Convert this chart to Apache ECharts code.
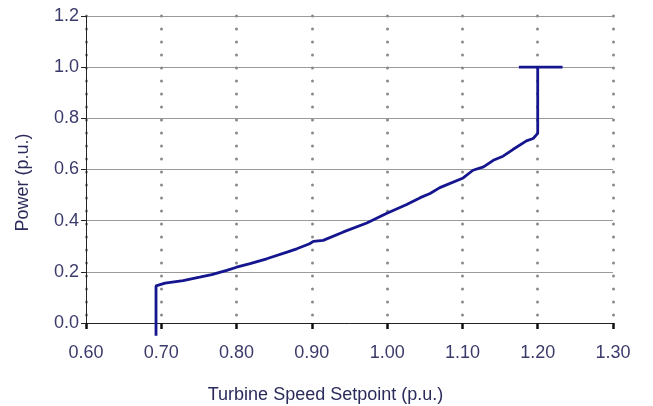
<!DOCTYPE html>
<html>
<head>
<meta charset="utf-8">
<script src="https://cdn.jsdelivr.net/npm/echarts@6/dist/echarts.min.js"></script>
<style>
html,body{margin:0;padding:0;background:#fff;}
#c{width:653px;height:406px;}
</style>
</head>
<body>
<div id="c"></div>
<script>
// Data
const speed = [0.693, 0.693, 0.705, 0.729, 0.751, 0.767, 0.787, 0.800, 0.818, 0.840, 0.867, 0.880, 0.897, 0.902, 0.915, 0.942, 0.973, 0.999, 1.026, 1.044, 1.057, 1.070, 1.101, 1.114, 1.128, 1.141, 1.154, 1.167, 1.185, 1.194, 1.200, 1.200];
const power = [-0.05, 0.145, 0.156, 0.166, 0.179, 0.189, 0.206, 0.218, 0.232, 0.251, 0.277, 0.290, 0.310, 0.319, 0.323, 0.356, 0.391, 0.428, 0.463, 0.490, 0.506, 0.529, 0.567, 0.597, 0.610, 0.636, 0.652, 0.678, 0.712, 0.721, 0.741, 1.0];
const capSpeed = [1.175, 1.233];
const capPower = [1.0, 1.0];
const xTicks = [0.60, 0.70, 0.80, 0.90, 1.00, 1.10, 1.20, 1.30];
const yTicks = [0.0, 0.2, 0.4, 0.6, 0.8, 1.0, 1.2];
const xTitle = 'Turbine Speed Setpoint (p.u.)';
const yTitle = 'Power (p.u.)';

const chart = echarts.init(document.getElementById('c'), null, {renderer: 'canvas'});
const font = 'Liberation Sans, Arial, sans-serif';
const lineColor = '#15158f';
const option = {
  backgroundColor: '#ffffff',
  animation: false,
  grid: {left: 86, right: 40, top: 16, bottom: 83, outerBoundsMode: 'none', containLabel: false},
  xAxis: {
    type: 'value',
    min: xTicks[0], max: xTicks[xTicks.length - 1], interval: 0.1,
    name: xTitle,
    nameLocation: 'middle',
    nameGap: 63,
    nameTextStyle: {color: '#2b2b5b', fontSize: 18, fontFamily: font, padding: [0, 48, 0, 0]},
    axisLine: {show: true, lineStyle: {color: '#222', width: 1}},
    axisTick: {show: true, inside: false, length: 6, lineStyle: {color: '#111', width: 2.5}},
    axisLabel: {margin: 21, fontSize: 18, fontFamily: font, color: '#3b3b6b', formatter: v => v.toFixed(2)},
    splitLine: {show: true, lineStyle: {color: '#8a8a8a', width: 3, type: [0.1, 12.9], cap: 'round'}}
  },
  yAxis: {
    type: 'value',
    min: yTicks[0], max: yTicks[yTicks.length - 1], interval: 0.2,
    name: yTitle,
    nameLocation: 'middle',
    nameGap: 54,
    nameTextStyle: {color: '#2b2b5b', fontSize: 18, fontFamily: font, padding: [0, 26, 0, 0]},
    axisLine: {show: true, lineStyle: {color: '#222', width: 1}},
    axisTick: {show: true, inside: false, length: 5, lineStyle: {color: '#222', width: 1}},
    axisLabel: {margin: 7, fontSize: 18, fontFamily: font, color: '#3b3b6b', formatter: v => v.toFixed(1)},
    splitLine: {show: true, lineStyle: {color: '#9a9a9a', width: 1.2, type: 'solid'}}
  },
  series: [
    {
      type: 'line',
      data: speed.map((s, i) => [s, power[i]]),
      showSymbol: false,
      clip: false,
      lineStyle: {color: lineColor, width: 2.8},
      z: 5
    },
    {
      type: 'line',
      data: capSpeed.map((s, i) => [s, capPower[i]]),
      showSymbol: false,
      clip: false,
      lineStyle: {color: lineColor, width: 2.8},
      z: 5
    }
  ]
};
chart.setOption(option);
</script>
</body>
</html>
